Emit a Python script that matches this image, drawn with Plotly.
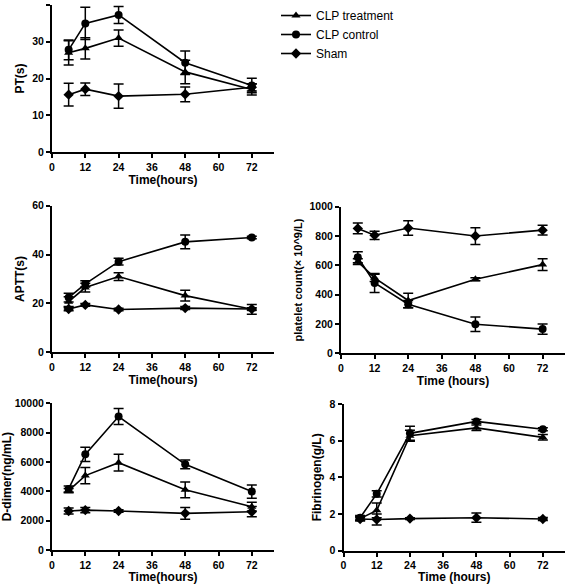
import plotly.graph_objects as go

hours = [6, 12, 24, 48, 72]
x_ticks = [0, 12, 24, 36, 48, 60, 72]
series_names = ["CLP treatment", "CLP control", "Sham"]

pt_treat = [27.0, 28.2, 31.0, 21.8, 17.0]
pt_treat_err = [3.3, 2.9, 2.2, 3.2, 1.5]
pt_ctrl = [27.8, 35.0, 37.3, 24.3, 18.1]
pt_ctrl_err = [2.7, 4.4, 2.3, 3.2, 2.0]
pt_sham = [15.6, 17.1, 15.2, 15.7, 17.6]
pt_sham_err = [3.1, 1.7, 3.3, 2.0, 1.0]

aptt_treat = [20.7, 26.5, 31.0, 23.2, 17.6]
aptt_treat_err = [2.0, 1.8, 1.6, 2.2, 2.0]
aptt_ctrl = [22.4, 28.0, 37.1, 45.2, 47.0]
aptt_ctrl_err = [1.8, 1.3, 1.4, 2.8, 0.5]
aptt_sham = [17.7, 19.4, 17.5, 18.1, 17.7]
aptt_sham_err = [0.7, 0.6, 0.5, 0.6, 0.5]

plt_treat = [625, 515, 360, 505, 605]
plt_treat_err = [20, 25, 50, 10, 40]
plt_ctrl = [655, 480, 335, 198, 165]
plt_ctrl_err = [38, 65, 25, 50, 35]
plt_sham = [852, 805, 855, 800, 840]
plt_sham_err = [37, 28, 50, 57, 33]

dd_treat = [4050, 5070, 5950, 4100, 2950]
dd_treat_err = [150, 550, 570, 540, 300]
dd_ctrl = [4160, 6520, 9100, 5840, 3980]
dd_ctrl_err = [200, 480, 550, 300, 450]
dd_sham = [2660, 2720, 2660, 2500, 2610]
dd_sham_err = [200, 180, 80, 400, 350]

fib_treat = [1.75, 2.2, 6.27, 6.7, 6.18]
fib_treat_err = [0.12, 0.4, 0.3, 0.15, 0.15]
fib_ctrl = [1.8, 3.1, 6.4, 7.05, 6.62]
fib_ctrl_err = [0.12, 0.17, 0.38, 0.1, 0.08]
fib_sham = [1.73, 1.7, 1.75, 1.8, 1.73]
fib_sham_err = [0.1, 0.3, 0.05, 0.25, 0.08]

W, H = 567, 584
symbols = ["triangle-up", "circle", "diamond"]

panels = [
    ("", [(pt_treat, pt_treat_err), (pt_ctrl, pt_ctrl_err), (pt_sham, pt_sham_err)],
     "PT(s)", "Time(hours)", [0, 40], 10, (52, 274), (5, 152), 12),
    ("2", [(aptt_treat, aptt_treat_err), (aptt_ctrl, aptt_ctrl_err), (aptt_sham, aptt_sham_err)],
     "APTT(s)", "Time(hours)", [0, 60], 20, (52, 274), (205.7, 352.3), 12),
    ("3", [(plt_treat, plt_treat_err), (plt_ctrl, plt_ctrl_err), (plt_sham, plt_sham_err)],
     "platelet count(× 10^9/L)", "Time (hours)", [0, 1000], 200, (341, 565), (206.7, 353.3), 11),
    ("4", [(dd_treat, dd_treat_err), (dd_ctrl, dd_ctrl_err), (dd_sham, dd_sham_err)],
     "D-dimer(ng/mL)", "Time(hours)", [0, 10000], 2000, (52, 274), (403.3, 550), 12),
    ("5", [(fib_treat, fib_treat_err), (fib_ctrl, fib_ctrl_err), (fib_sham, fib_sham_err)],
     "Fibrinogen(g/L)", "Time (hours)", [0, 8], 2, (343.5, 565), (404, 550.7), 12),
]

fig = go.Figure()
font_b = dict(family="Liberation Sans, Arial", color="black", weight="bold")

for pi, (suf, data, ytitle, xtitle, yr, dt, xpx, ypx, tsize) in enumerate(panels):
    xa = "x" + suf
    ya = "y" + suf
    for si, (vals, errs) in enumerate(data):
        fig.add_trace(go.Scatter(
            x=hours, y=vals, xaxis=xa, yaxis=ya,
            mode="lines+markers", name=series_names[si],
            showlegend=(pi == 0), legendgroup=series_names[si],
            line=dict(color="black", width=1.6),
            marker=dict(symbol=symbols[si], size=8, color="black"),
            error_y=dict(type="data", array=errs, visible=True, color="black",
                         thickness=1.5, width=5),
        ))
    xdom = [xpx[0] / W, xpx[1] / W]
    ydom = [(H - ypx[1]) / H, (H - ypx[0]) / H]
    fig.update_layout(**{
        "xaxis" + suf: dict(
            domain=xdom, anchor=ya, range=[0, 80], tickvals=x_ticks, automargin=False,
            showline=True, linecolor="black", linewidth=2, ticks="outside",
            ticklen=4, tickwidth=1.5, tickcolor="black", showgrid=False, zeroline=False,
            tickfont=dict(size=10.5, **font_b),
            title=dict(text=xtitle, font=dict(size=12, **font_b), standoff=3),
        ),
        "yaxis" + suf: dict(
            domain=ydom, anchor=xa, range=yr, dtick=dt, tick0=0, automargin=False,
            tickformat="d",
            showline=True, linecolor="black", linewidth=2, ticks="outside",
            ticklen=4, tickwidth=1.5, tickcolor="black", showgrid=False, zeroline=False,
            tickfont=dict(size=10.5, **font_b),
            title=dict(text=ytitle, font=dict(size=tsize, **font_b), standoff=5),
        ),
    })

fig.update_layout(
    width=W, height=H,
    margin=dict(l=0, r=0, t=0, b=0, autoexpand=False),
    paper_bgcolor="white", plot_bgcolor="white",
    legend=dict(x=276 / W, y=1 - 1 / H, xanchor="left", yanchor="top",
                font=dict(family="Liberation Sans, Arial", size=12, color="black"),
                tracegroupgap=0, itemwidth=30, bgcolor="rgba(0,0,0,0)"),
)

# remove the default 8px page margin so the figure sits at the window's corner
fig.write_html("out.html", config={"displayModeBar": False},
               post_script="document.body.style.margin='0';")
